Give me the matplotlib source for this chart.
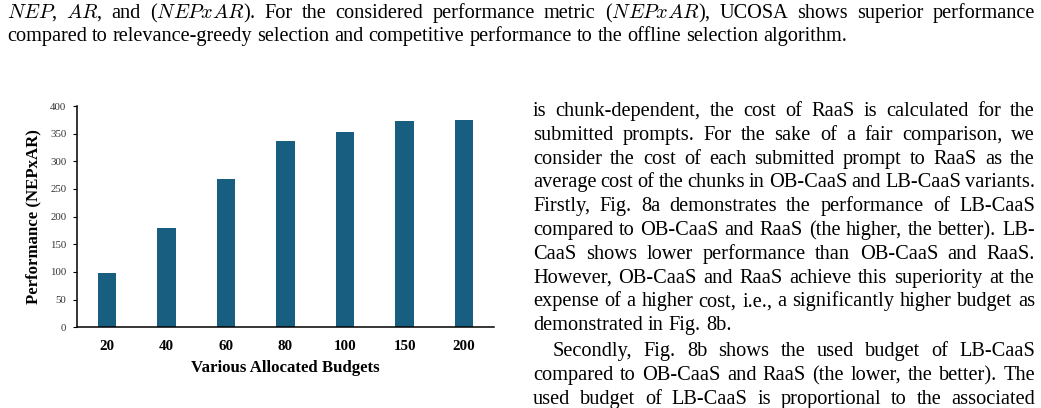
import matplotlib
matplotlib.use("Agg")
import matplotlib.pyplot as plt

plt.rcParams['font.family'] = ['Liberation Serif', 'DejaVu Serif']
plt.rcParams['mathtext.fontset'] = 'cm'

budgets = ['20', '40', '60', '80', '100', '150', '200']
performance = [98, 180, 268, 337, 353, 372, 374]
bar_color = '#185e80'

top_lines = [
    "$NEP$, $AR$, and ($NEPxAR$). For the considered performance metric ($NEPxAR$), UCOSA shows superior performance",
    "compared to relevance-greedy selection and competitive performance to the offline selection algorithm.",
]
col_lines = [
    "is chunk-dependent, the cost of RaaS is calculated for the",
    "submitted prompts. For the sake of a fair comparison, we",
    "consider the cost of each submitted prompt to RaaS as the",
    "average cost of the chunks in OB-CaaS and LB-CaaS variants.",
    "Firstly, Fig. 8a demonstrates the performance of LB-CaaS",
    "compared to OB-CaaS and RaaS (the higher, the better). LB-",
    "CaaS shows lower performance than OB-CaaS and RaaS.",
    "However, OB-CaaS and RaaS achieve this superiority at the",
    "expense of a higher cost, i.e., a significantly higher budget as",
    "demonstrated in Fig. 8b.",
    "Secondly, Fig. 8b shows the used budget of LB-CaaS",
    "compared to OB-CaaS and RaaS (the lower, the better). The",
    "used budget of LB-CaaS is proportional to the associated",
]

W, H = 1041, 408
fig = plt.figure(figsize=(W / 100, H / 100), dpi=100)
renderer = fig.canvas.get_renderer()


def put_line(line, x0, x1, y, size, justify=True):
    # place words one by one, stretch the spaces to fill x0..x1
    words = line.split(' ')
    texts = []
    widths = []
    for w in words:
        t = fig.text(0, 1 - y / H, w, fontsize=size, va='baseline', ha='left')
        widths.append(t.get_window_extent(renderer).width)
        texts.append(t)
    if justify and len(words) > 1:
        gap = (x1 - x0 - sum(widths)) / (len(words) - 1)
    else:
        gap = size * 100 / 72 * 0.25
    x = x0
    for t, w in zip(texts, widths):
        t.set_x(x / W)
        x += w + gap


# text above the figure
put_line(top_lines[0], 7, 1035, 18, 14.6)
put_line(top_lines[1], 7, 1035, 41, 14.6, justify=False)

# right column
for i, line in enumerate(col_lines):
    if i < 10:
        y = 116 + 23.8 * i
        x0 = 533
    else:
        y = 356 + 24 * (i - 10)
        x0 = 553 if i == 10 else 533
    put_line(line, x0, 1035, y, 14.7, justify=(i != 9))

# the bar chart
ax = fig.add_axes([77 / W, 1 - 327.3 / H, (494 - 77) / W, (327.3 - 106) / H])
ax.bar(range(len(budgets)), performance, width=0.31, color=bar_color)
ax.set_xlim(-0.5, len(budgets) - 0.5)
ax.set_ylim(0, 400)
ax.set_yticks(range(0, 401, 50))
ax.set_xticks(range(len(budgets)))
ax.set_xticklabels(budgets, fontweight='bold', fontsize=10.8)
ax.tick_params(axis='x', length=0, pad=9)
ax.tick_params(axis='y', length=2.6, width=0.8, pad=5, labelsize=7.8, labelcolor='#333333')
for s in ['top', 'right']:
    ax.spines[s].set_visible(False)
for s in ['left', 'bottom']:
    ax.spines[s].set_linewidth(1.1)

ax.set_xlabel('Various Allocated Budgets', fontweight='bold', fontsize=12.1, labelpad=5)
ax.set_ylabel('Performance (NEPxAR)', fontweight='bold', fontsize=12.1)
ax.yaxis.set_label_coords(-0.105, 0.5)
ax.yaxis.label.set_va('center')

fig.savefig('out.png', dpi=100)
